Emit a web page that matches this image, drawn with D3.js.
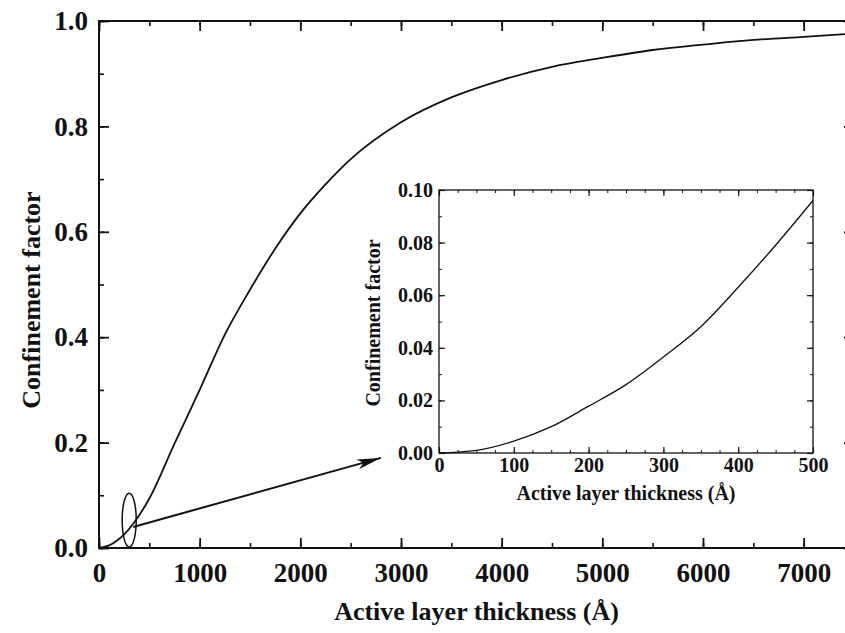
<!DOCTYPE html>
<html lang="en">
<head>
  <meta charset="UTF-8">
  <title>Confinement factor vs active layer thickness</title>
  <style>
    body { margin: 0; background: #fff; overflow: hidden; }
    svg { display: block; }
    text { font-family: "Liberation Serif", "Times New Roman", serif; font-weight: bold; fill: #111; }
  </style>
</head>
<body>
  <svg width="845" height="633"></svg>
  <script src="https://d3js.org/d3.v7.min.js"></script>
  <script>
    // main curve: thickness (Å) vs confinement factor
    const mainThickness = [0, 100, 250, 500, 750, 1000, 1250, 1500, 1750, 2000, 2250, 2500, 3000, 3500, 4000, 4500, 5000, 5500, 6000, 6500, 7000, 7500];
    const mainGamma     = [0, 0.005, 0.026, 0.094, 0.198, 0.30, 0.405, 0.49, 0.568, 0.635, 0.69, 0.738, 0.808, 0.855, 0.888, 0.913, 0.930, 0.945, 0.955, 0.964, 0.970, 0.976];

    // inset: zoom on the thin-layer part
    const insetThickness = [0, 50, 100, 150, 200, 250, 300, 350, 400, 450, 500];
    const insetGamma     = [0, 0.001, 0.0045, 0.010, 0.0178, 0.026, 0.0365, 0.048, 0.063, 0.079, 0.096];

    // tick labels
    const mainXTicks = [0, 1000, 2000, 3000, 4000, 5000, 6000, 7000];
    const mainYTicks = [0, 0.2, 0.4, 0.6, 0.8, 1.0];
    const insetXTicks = [0, 100, 200, 300, 400, 500];
    const insetYTicks = [0, 0.02, 0.04, 0.06, 0.08, 0.10];

    const xLabel = "Active layer thickness (Å)";
    const yLabel = "Confinement factor";

    const svg = d3.select("svg");

    // ---- main plot ----
    const x = d3.scaleLinear().domain([0, 7500]).range([99, 854]);
    const y = d3.scaleLinear().domain([0, 1]).range([548, 21]);

    const minorX = d3.range(0, 7501, 500);
    const minorY = d3.range(0, 1.001, 0.1);

    function styleAxis(g, w) {
      g.select(".domain").remove();
      g.selectAll(".tick line").attr("stroke", "#111").attr("stroke-width", w);
    }

    const main = svg.append("g");

    // minor ticks (all four sides)
    main.append("g").attr("transform", "translate(0,548)")
      .call(d3.axisBottom(x).tickValues(minorX).tickSize(-5).tickFormat(""))
      .call(g => styleAxis(g, 1.6));
    main.append("g").attr("transform", "translate(0,21)")
      .call(d3.axisTop(x).tickValues(minorX).tickSize(-5).tickFormat(""))
      .call(g => styleAxis(g, 1.6));
    main.append("g").attr("transform", "translate(99,0)")
      .call(d3.axisLeft(y).tickValues(minorY).tickSize(-5).tickFormat(""))
      .call(g => styleAxis(g, 1.6));
    main.append("g").attr("transform", "translate(854,0)")
      .call(d3.axisRight(y).tickValues(minorY).tickSize(-5).tickFormat(""))
      .call(g => styleAxis(g, 1.6));

    // major ticks with labels
    main.append("g").attr("transform", "translate(0,548)")
      .call(d3.axisBottom(x).tickValues(mainXTicks).tickSize(-10).tickPadding(15).tickFormat(d3.format("d")))
      .call(g => styleAxis(g, 1.8))
      .call(g => g.selectAll("text").style("font-size", "27px"));
    main.append("g").attr("transform", "translate(0,21)")
      .call(d3.axisTop(x).tickValues(mainXTicks).tickSize(-10).tickFormat(""))
      .call(g => styleAxis(g, 1.8));
    main.append("g").attr("transform", "translate(99,0)")
      .call(d3.axisLeft(y).tickValues(mainYTicks).tickSize(-10).tickPadding(11).tickFormat(d3.format(".1f")))
      .call(g => styleAxis(g, 1.8))
      .call(g => g.selectAll("text").style("font-size", "27px"));
    main.append("g").attr("transform", "translate(854,0)")
      .call(d3.axisRight(y).tickValues(mainYTicks).tickSize(-10).tickFormat(""))
      .call(g => styleAxis(g, 1.8));

    // frame
    main.append("rect")
      .attr("x", x(0)).attr("y", y(1))
      .attr("width", x(7500) - x(0)).attr("height", y(0) - y(1))
      .attr("fill", "none").attr("stroke", "#111").attr("stroke-width", 2);

    const mainPts = mainThickness.map((d, i) => [d, mainGamma[i]]);
    main.append("path")
      .datum(mainPts)
      .attr("fill", "none")
      .attr("stroke", "#111")
      .attr("stroke-width", 1.8)
      .attr("d", d3.line().curve(d3.curveMonotoneX).x(d => x(d[0])).y(d => y(d[1])));

    // axis titles
    svg.append("text")
      .attr("x", (x(0) + x(7500)) / 2).attr("y", 620)
      .attr("text-anchor", "middle")
      .style("font-size", "26px")
      .text(xLabel);
    svg.append("text")
      .attr("transform", "translate(40,300) rotate(-90)")
      .attr("text-anchor", "middle")
      .style("font-size", "26px")
      .text(yLabel);

    // ellipse marking the zoomed region, and arrow to inset
    svg.append("defs").append("marker")
      .attr("id", "arrow")
      .attr("viewBox", "0 0 24 10")
      .attr("refX", 24).attr("refY", 5)
      .attr("markerWidth", 24).attr("markerHeight", 10)
      .attr("markerUnits", "userSpaceOnUse")
      .attr("orient", "auto")
      .append("path")
      .attr("d", "M0,0 L24,5 L0,10 L6,5 Z")
      .attr("fill", "#111");

    main.append("ellipse")
      .attr("cx", x(300)).attr("cy", y(0.053))
      .attr("rx", x(70) - x(0)).attr("ry", y(0) - y(0.051))
      .attr("fill", "none").attr("stroke", "#111").attr("stroke-width", 1.5);

    main.append("line")
      .attr("x1", x(340)).attr("y1", y(0.04))
      .attr("x2", x(2800)).attr("y2", y(0.171))
      .attr("stroke", "#111").attr("stroke-width", 2)
      .attr("marker-end", "url(#arrow)");

    // ---- inset ----
    const xi = d3.scaleLinear().domain([0, 500]).range([439, 813]);
    const yi = d3.scaleLinear().domain([0, 0.1]).range([453, 190]);

    const inset = svg.append("g");
    inset.append("rect")
      .attr("x", xi(0)).attr("y", yi(0.1))
      .attr("width", xi(500) - xi(0)).attr("height", yi(0) - yi(0.1))
      .attr("fill", "#fff");

    const minorXi = d3.range(0, 501, 25);
    const minorYi = d3.range(0, 0.1001, 0.01);

    inset.append("g").attr("transform", "translate(0,453)")
      .call(d3.axisBottom(xi).tickValues(minorXi).tickSize(-3).tickFormat(""))
      .call(g => styleAxis(g, 1));
    inset.append("g").attr("transform", "translate(0,190)")
      .call(d3.axisTop(xi).tickValues(minorXi).tickSize(-3).tickFormat(""))
      .call(g => styleAxis(g, 1));
    inset.append("g").attr("transform", "translate(439,0)")
      .call(d3.axisLeft(yi).tickValues(minorYi).tickSize(-3).tickFormat(""))
      .call(g => styleAxis(g, 1));
    inset.append("g").attr("transform", "translate(813,0)")
      .call(d3.axisRight(yi).tickValues(minorYi).tickSize(-3).tickFormat(""))
      .call(g => styleAxis(g, 1));

    inset.append("g").attr("transform", "translate(0,453)")
      .call(d3.axisBottom(xi).tickValues(insetXTicks).tickSize(-6).tickPadding(5).tickFormat(d3.format("d")))
      .call(g => styleAxis(g, 1.2))
      .call(g => g.selectAll("text").style("font-size", "20px"));
    inset.append("g").attr("transform", "translate(0,190)")
      .call(d3.axisTop(xi).tickValues(insetXTicks).tickSize(-6).tickFormat(""))
      .call(g => styleAxis(g, 1.2));
    inset.append("g").attr("transform", "translate(439,0)")
      .call(d3.axisLeft(yi).tickValues(insetYTicks).tickSize(-6).tickPadding(6).tickFormat(d3.format(".2f")))
      .call(g => styleAxis(g, 1.2))
      .call(g => g.selectAll("text").style("font-size", "20px"));
    inset.append("g").attr("transform", "translate(813,0)")
      .call(d3.axisRight(yi).tickValues(insetYTicks).tickSize(-6).tickFormat(""))
      .call(g => styleAxis(g, 1.2));

    inset.append("rect")
      .attr("x", xi(0)).attr("y", yi(0.1))
      .attr("width", xi(500) - xi(0)).attr("height", yi(0) - yi(0.1))
      .attr("fill", "none").attr("stroke", "#111").attr("stroke-width", 1.3);

    const insetPts = insetThickness.map((d, i) => [d, insetGamma[i]]);
    inset.append("path")
      .datum(insetPts)
      .attr("fill", "none")
      .attr("stroke", "#111")
      .attr("stroke-width", 1.3)
      .attr("d", d3.line().curve(d3.curveMonotoneX).x(d => xi(d[0])).y(d => yi(d[1])));

    svg.append("text")
      .attr("x", (xi(0) + xi(500)) / 2).attr("y", 500)
      .attr("text-anchor", "middle")
      .style("font-size", "20px")
      .text(xLabel);
    svg.append("text")
      .attr("transform", "translate(380,323) rotate(-90)")
      .attr("text-anchor", "middle")
      .style("font-size", "20px")
      .text(yLabel);
  </script>
</body>
</html>
